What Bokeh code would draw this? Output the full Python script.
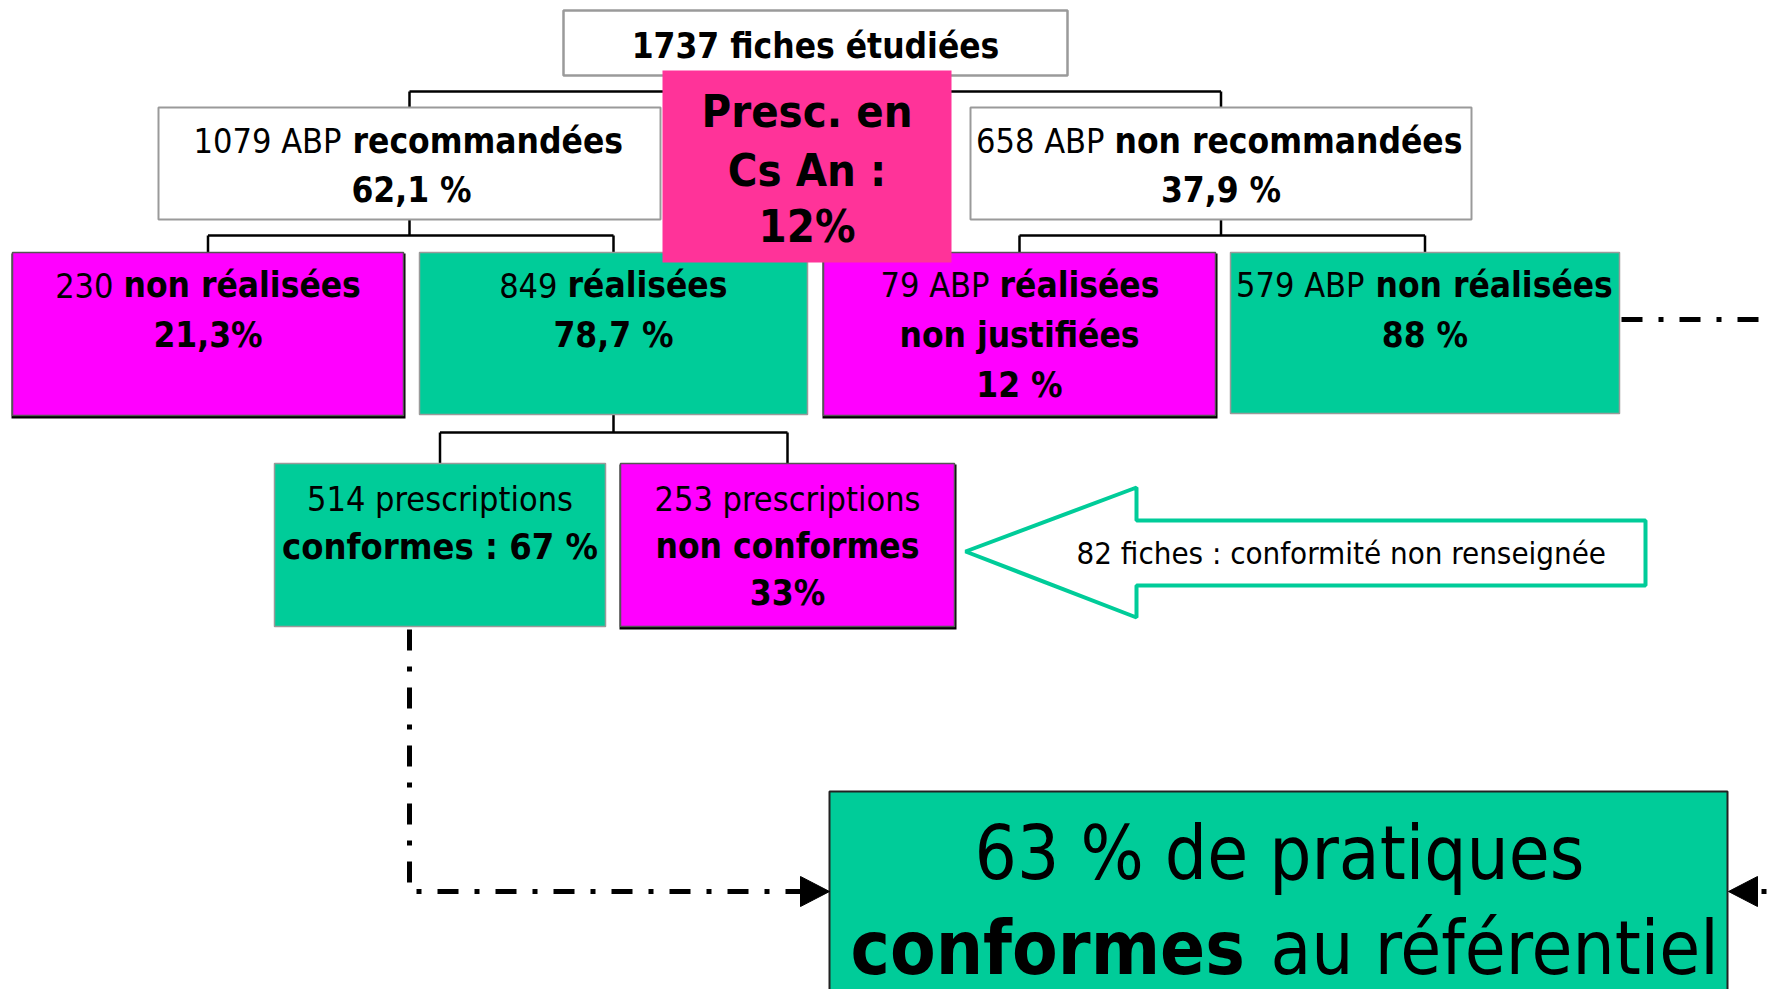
from bokeh.plotting import figure
from bokeh.models import Range1d
from bokeh.core.properties import value
from bokeh.embed import file_html
from bokeh.resources import INLINE

# ---------------- data ----------------
total_fiches = 1737
branch_counts = [1079, 658]
branch_labels = ["recommandées", "non recommandées"]
branch_pcts = ["62,1 %", "37,9 %"]

rec_counts = [230, 849]
rec_labels = ["non réalisées", "réalisées"]
rec_pcts = ["21,3%", "78,7 %"]

nonrec_counts = [79, 579]
nonrec_labels = ["réalisées", "non réalisées"]
nonrec_extra = ["non justifiées", None]
nonrec_pcts = ["12 %", "88 %"]

conf_counts = [514, 253]
conf_labels = ["conformes : 67 %", "non conformes"]
conf_pcts = [None, "33%"]

missing_conf = 82
presc_cs_an_pct = "12%"
final_pct = "63 %"

# ---------------- style ----------------
GREEN = "#00CC99"
MAGENTA = "#FF00FF"
PINK = "#FF3399"
GREY = "#9A9A9A"
REG = value("DejaVu Sans Condensed")
BOLD = value("DejaVu Sans Condensed")

W, H = 1768, 989
p = figure(width=W, height=H, x_range=Range1d(0, W), y_range=Range1d(H, 0),
           x_axis_type=None, y_axis_type=None, toolbar_location=None,
           output_backend="svg", min_border=0, outline_line_color=None,
           background_fill_color="white", border_fill_color="white")
p.grid.visible = False

# ---------------- layout (pixel boxes: left, top, right, bottom) ----------------
box_title = (563, 10, 1067, 75)
box_branch = [(158, 107, 660, 219), (970, 107, 1471, 219)]
box_rec = [(12, 252, 403, 415), (419, 252, 807, 414)]
box_nonrec = [(823, 252, 1215, 415), (1230, 252, 1619, 413)]
box_conf = [(274, 463, 605, 626), (620, 463, 954, 626)]
box_presc = (662, 70, 951, 262)
box_final = (829, 791, 1727, 1010)


def cx(b):
    return (b[0] + b[2]) / 2


# connectors (elbow lines)
def elbow(parent, kids, ymid):
    xs, ys = [], []
    px = cx(parent)
    xs.append([px, px]); ys.append([parent[3], ymid])
    xs.append([cx(kids[0]), cx(kids[1])]); ys.append([ymid, ymid])
    for k in kids:
        xs.append([cx(k), cx(k)]); ys.append([ymid, k[1]])
    return xs, ys


cxs, cys = [], []
for par, kids, ym in [(box_title, box_branch, 91), (box_branch[0], box_rec, 235),
                      (box_branch[1], box_nonrec, 235), (box_rec[1], box_conf, 432)]:
    a, b = elbow(par, kids, ym)
    cxs += a; cys += b
p.multi_line(cxs, cys, line_color="black", line_width=2.5)


def boxes(bl, fill, line, lw, shadow=False):
    if shadow:
        p.quad(left=[b[0] - 1 for b in bl], right=[b[2] + 2 for b in bl],
               top=[b[1] + 1 for b in bl], bottom=[b[3] + 3 for b in bl],
               fill_color="black", line_color=None)
    p.quad(left=[b[0] for b in bl], right=[b[2] for b in bl],
           top=[b[1] for b in bl], bottom=[b[3] for b in bl],
           fill_color=fill, line_color=line, line_width=lw)


boxes([box_title], "white", GREY, 2.5)
boxes(box_branch, "white", GREY, 2)
boxes([box_rec[0], box_nonrec[0], box_conf[1]], MAGENTA, "#555555", 1.5, shadow=True)
boxes([box_rec[1], box_nonrec[1], box_conf[0]], GREEN, GREY, 1.5)
boxes([box_presc], PINK, None, 0)
boxes([box_final], GREEN, "#222222", 2)

# hollow arrow pointing to the non-conform box
arr_tip, arr_head_x, arr_right = 965, 1136, 1645
arr_head_top, arr_head_bot, arr_sh_top, arr_sh_bot, arr_mid = 487, 617, 520, 585, 551
p.patch([arr_tip, arr_head_x, arr_head_x, arr_right, arr_right, arr_head_x, arr_head_x, arr_tip],
        [arr_mid, arr_head_top, arr_sh_top, arr_sh_top, arr_sh_bot, arr_sh_bot, arr_head_bot, arr_mid],
        fill_color="white", line_color=GREEN, line_width=4)

# dash-dot flows towards the final box
DASH = "21 16 5 16"
p.line([409, 409, 800], [629, 891, 891], line_color="black", line_width=5, line_dash=DASH)
p.line([1621, 1800, 1800], [319, 319, 891], line_color="black", line_width=5, line_dash=DASH)
p.line([1761, 1800], [891, 891], line_color="black", line_width=5, line_dash="5 16 21 16")
p.patches([[800, 829, 800], [1757, 1728, 1757]], [[876, 891, 906], [876, 891, 906]],
          fill_color="black", line_color="black")

# renderer places the alphabetic baseline slightly lower than measured; compensate
DY = {31: 11, 34: 12.5, 35: 12.5, 36: 12.5, 45: 17, 74: 19}


# ---------------- texts ----------------
def txt(x, y, s, size, bold=False, align="center"):
    p.text(x=[x], y=[y - DY.get(size, 0.36 * size)], text=[s], text_font=BOLD if bold else REG,
           text_font_style="bold" if bold else "normal", text_font_size=f"{size}px",
           text_align=align, text_baseline="alphabetic", text_color="black")


def mixed(reg_end, bold_start, y, reg, bld, size):
    txt(reg_end, y, reg, size, False, "right")
    txt(bold_start, y, bld, size + 1, True, "left")


S = 34
txt(cx(box_title), 58, f"{total_fiches} fiches étudiées", 35, True)

mixed(341, 352, 153, f"{branch_counts[0]} ABP", branch_labels[0], S)
mixed(1104, 1114, 153, f"{branch_counts[1]} ABP", branch_labels[1], S)
txt(cx(box_branch[0]) + 2, 202, branch_pcts[0], 35, True)
txt(cx(box_branch[1]), 202, branch_pcts[1], 35, True)

mixed(113, 123, 297, f"{rec_counts[0]}", rec_labels[0], S)
mixed(557, 567, 297, f"{rec_counts[1]}", rec_labels[1], S)
txt(cx(box_rec[0]), 347, rec_pcts[0], 35, True)
txt(cx(box_rec[1]), 347, rec_pcts[1], 35, True)

mixed(989, 999, 297, f"{nonrec_counts[0]} ABP", nonrec_labels[0], S)
mixed(1364, 1375, 297, f"{nonrec_counts[1]} ABP", nonrec_labels[1], S)
txt(cx(box_nonrec[0]), 347, nonrec_extra[0], 35, True)
txt(cx(box_nonrec[0]), 397, nonrec_pcts[0], 35, True)
txt(cx(box_nonrec[1]), 347, nonrec_pcts[1], 35, True)

txt(cx(box_conf[0]), 511, f"{conf_counts[0]} prescriptions", S)
txt(cx(box_conf[0]), 558, conf_labels[0], 36, True)
txt(cx(box_conf[1]), 511, f"{conf_counts[1]} prescriptions", S)
txt(cx(box_conf[1]), 558, conf_labels[1], 35, True)
txt(cx(box_conf[1]), 605, conf_pcts[1], 35, True)

txt(1076, 563, f"{missing_conf} fiches : conformité non renseignée", 31, False, "left")

txt(cx(box_presc), 128, "Presc. en", 45, True)
txt(cx(box_presc), 187, "Cs An :", 45, True)
txt(cx(box_presc), 243, presc_cs_an_pct, 45, True)

txt(1279, 871, f"{final_pct} de pratiques", 74)
txt(850, 966, "conformes", 74, True, "left")
txt(1270, 966, "au référentiel", 74, False, "left")

open("out.html", "w").write(file_html(p, INLINE))
